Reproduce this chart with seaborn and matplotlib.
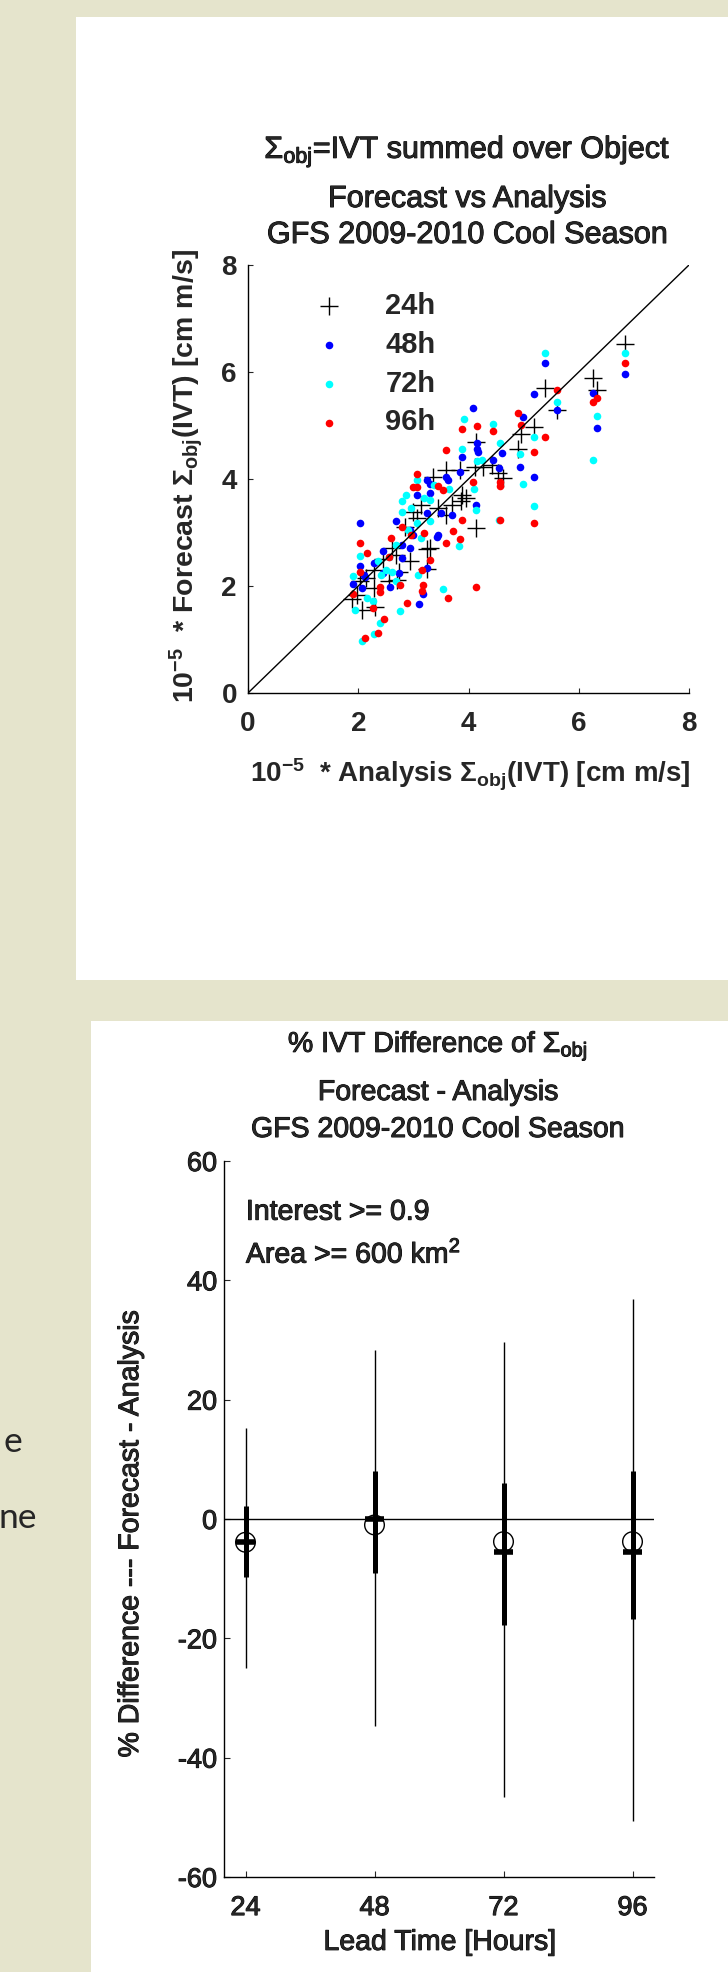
import seaborn as sns
import matplotlib.pyplot as plt
import matplotlib.patheffects as pe
from matplotlib.patches import Rectangle

# analysis (x) vs forecast (y), 1e-5 * Sigma_obj(IVT) [cm m/s]
ana_24 = [6.84, 6.26, 6.33, 5.39, 5.60, 5.18, 4.96, 4.90, 4.54, 4.63,
          4.43, 4.27, 4.14, 4.12, 3.85, 3.60, 3.36, 4.14, 3.95, 3.86,
          3.89, 3.70, 3.60, 3.06, 3.00, 3.13, 3.24, 3.31, 3.24, 2.93,
          2.74, 2.71, 2.61, 2.55, 2.29, 2.14, 2.04, 1.88, 2.06, 2.30,
          1.98, 2.29, 2.68, 2.45, 2.85, 3.45]
fc_24 = [6.52, 5.88, 5.66, 5.71, 5.29, 4.98, 4.85, 4.57, 4.11, 4.01,
         4.27, 4.23, 4.70, 4.22, 4.17, 4.17, 4.04, 3.08, 3.64, 3.58,
         3.70, 3.52, 3.33, 3.27, 3.39, 3.52, 2.69, 2.71, 2.31, 2.46,
         2.27, 2.12, 2.71, 2.09, 1.96, 2.15, 2.09, 1.75, 1.55, 1.61,
         1.84, 2.30, 2.58, 2.50, 3.10, 3.45]

ana_48 = [6.84, 5.39, 5.19, 5.60, 6.26, 6.33, 4.98, 4.93, 5.18, 4.09,
          4.60, 4.56, 4.45, 4.15, 4.16, 4.17, 3.88, 3.60, 3.63, 3.85,
          4.14, 3.25, 3.31, 3.06, 3.30, 3.70, 3.51, 3.44, 3.25, 3.42,
          2.68, 2.93, 2.80, 2.93, 2.45, 2.29, 2.10, 2.04, 2.03, 1.91,
          2.06, 2.12, 2.58, 2.74, 3.17, 3.11, 3.25, 2.45, 2.80, 3.00]
fc_48 = [5.96, 6.16, 5.59, 5.29, 5.60, 4.95, 5.15, 4.22, 4.04, 5.32,
         4.49, 4.20, 4.36, 4.68, 4.57, 4.50, 4.42, 4.04, 3.98, 4.14,
         3.52, 3.98, 3.74, 3.70, 3.91, 3.33, 3.36, 2.96, 3.36, 2.92,
         3.21, 3.05, 2.77, 2.71, 2.65, 2.43, 2.21, 3.18, 2.37, 2.04,
         1.96, 2.16, 1.99, 2.24, 1.85, 1.66, 2.33, 2.24, 2.52, 2.96]

ana_72 = [6.84, 5.39, 5.60, 5.19, 6.33, 6.26, 5.18, 4.98, 4.93, 4.57,
          4.45, 3.91, 3.88, 4.24, 4.15, 4.10, 4.14, 4.56, 3.83, 3.65,
          3.38, 3.06, 3.19, 2.87, 2.80, 2.80, 2.96, 3.31, 3.31, 3.06,
          2.90, 3.13, 2.68, 2.55, 2.36, 2.42, 2.61, 2.68, 2.04, 1.90,
          1.94, 2.15, 2.26, 2.39, 2.29, 2.07, 2.76, 3.53, 3.09, 2.50]
fc_72 = [6.35, 6.36, 5.43, 4.79, 5.18, 4.36, 3.50, 3.91, 4.47, 4.68,
         5.03, 5.13, 4.57, 4.36, 4.33, 3.81, 3.42, 3.24, 2.75, 3.82,
         3.89, 3.99, 3.64, 3.70, 3.58, 3.39, 3.46, 3.61, 3.21, 3.18,
         3.05, 2.90, 2.77, 2.55, 2.46, 2.21, 2.27, 2.09, 2.56, 2.19,
         1.55, 1.77, 1.72, 1.30, 1.10, 0.97, 1.54, 1.94, 2.21, 2.30]

ana_96 = [6.84, 5.60, 6.33, 6.26, 5.39, 5.19, 4.96, 4.89, 4.45,
          4.16, 3.88, 3.59, 4.57, 4.57, 4.08, 3.07, 3.07, 3.45, 3.53,
          3.89, 3.85, 3.71, 3.59, 3.62, 4.14, 4.57, 5.19, 3.31, 3.15,
          3.17, 3.15, 2.89, 2.47, 2.36, 2.12, 2.39, 2.39, 2.26, 1.91,
          2.04, 2.16, 2.04, 2.75, 2.55, 2.80, 2.95, 3.20, 2.60, 3.00]
fc_96 = [6.16, 5.66, 5.52, 5.43, 4.79, 4.51, 5.01, 5.24, 4.90,
         5.00, 4.93, 4.54, 3.87, 3.95, 3.95, 4.09, 3.85, 3.87, 3.79,
         3.24, 2.87, 3.03, 2.81, 1.77, 1.99, 3.24, 3.17, 2.49, 2.30,
         2.02, 1.91, 1.69, 1.38, 1.13, 1.02, 1.89, 1.99, 1.58, 1.85,
         2.27, 2.61, 2.81, 2.02, 2.55, 3.10, 2.95, 3.00, 2.90, 3.85]

# % difference (forecast - analysis) summary per lead time
lead_hours = [24, 48, 72, 96]
whisker_lo = [-24.9, -34.7, -46.6, -50.6]
box_lo = [-9.7, -9.1, -17.8, -16.8]
median_pct = [-3.8, 0.0, -5.5, -5.5]
box_hi = [2.1, 8.0, 6.1, 8.0]
whisker_hi = [15.2, 28.4, 29.7, 36.8]
mean_pct = [-3.9, -1.0, -3.8, -3.8]

W, H = 728, 1972
BEIGE = "#E5E4CC"
# thicken the regular-weight text a touch, like the MATLAB export
heavy = [pe.withStroke(linewidth=0.7, foreground="black")]

sns.set_theme(style="ticks")
plt.rcParams["font.family"] = ["Liberation Sans", "DejaVu Sans"]
plt.rcParams["mathtext.fontset"] = "custom"
plt.rcParams["mathtext.rm"] = "Liberation Sans"
plt.rcParams["mathtext.it"] = "Liberation Sans:italic"
plt.rcParams["mathtext.bf"] = "Liberation Sans:bold"
plt.rcParams["axes.linewidth"] = 1.0
plt.rcParams["axes.edgecolor"] = "black"
plt.rcParams["axes.unicode_minus"] = False

fig = plt.figure(figsize=(W / 100, H / 100), dpi=100)
fig.patch.set_facecolor(BEIGE)
fig.add_artist(Rectangle((76 / W, 1 - 980 / H), 1 - 76 / W, (980 - 17) / H,
                         transform=fig.transFigure, fc="white", ec="none", zorder=-5))
fig.add_artist(Rectangle((91 / W, 0), 1 - 91 / W, 1 - 1021 / H,
                         transform=fig.transFigure, fc="white", ec="none", zorder=-5))

# bits of slide text peeking out on the left
fig.text(22 / W, 1 - 1452 / H, "e", ha="right", va="baseline",
         fontsize=25.5, family="Lato", color="#262626")
fig.text(37 / W, 1 - 1528 / H, "ne", ha="right", va="baseline",
         fontsize=25.5, family="Lato", color="#262626")

# ---------------- scatter: forecast vs analysis ----------------
ax1 = fig.add_axes([248 / W, 1 - 693 / H, 441 / W, 428 / H])
ax1.set_facecolor("white")
sns.scatterplot(x=ana_24, y=fc_24, ax=ax1, marker="+", s=170, color="black",
                linewidth=1.0, label="24h")
sns.scatterplot(x=ana_48, y=fc_48, ax=ax1, marker="o", s=30, color="#0000FF",
                linewidth=0, label="48h")
sns.scatterplot(x=ana_72, y=fc_72, ax=ax1, marker="o", s=30, color="#00FFFF",
                linewidth=0, label="72h")
sns.scatterplot(x=ana_96, y=fc_96, ax=ax1, marker="o", s=30, color="#FF0000",
                linewidth=0, label="96h")
ax1.plot([0, 8], [0, 8], color="black", lw=1.0)
ax1.set_xlim(0, 8)
ax1.set_ylim(0, 8)
ax1.set_xticks([0, 2, 4, 6, 8])
ax1.set_yticks([0, 2, 4, 6, 8])
ax1.tick_params(direction="in", length=3.5, width=0.8, labelsize=20)
ax1.tick_params(axis="x", pad=13)
ax1.tick_params(axis="y", pad=8)
for lab in ax1.get_xticklabels() + ax1.get_yticklabels():
    lab.set_fontweight("bold")
sns.despine(ax=ax1)
ax1.legend(loc="upper left", bbox_to_anchor=(0.118, 0.937), frameon=False,
           borderaxespad=0, borderpad=0, handlelength=2, handletextpad=0.93,
           labelspacing=0.37, scatterpoints=1,
           prop={"size": 21, "weight": "bold"})
ax1.text(0.503, -0.192,
         r"10$^{\mathbf{-5}}$  * Analysis $\mathbf{\Sigma}_{\mathbf{obj}}$(IVT) [cm m/s]",
         transform=ax1.transAxes, ha="center", va="center", fontsize=20,
         fontweight="bold")
ax1.text(-0.141, 0.507,
         r"10$^{\mathbf{-5}}$  * Forecast $\mathbf{\Sigma}_{\mathbf{obj}}$(IVT) [cm m/s]",
         transform=ax1.transAxes, ha="center", va="center", rotation=90,
         fontsize=20.5, fontweight="bold")

cx1 = 467 / W
fig.text(cx1, 1 - 158 / H, r"$\Sigma_{\rm obj}$=IVT summed over Object",
         ha="center", va="baseline", fontsize=22, path_effects=heavy)
fig.text(cx1, 1 - 207 / H, "Forecast vs Analysis", ha="center", va="baseline",
         fontsize=22, path_effects=heavy)
fig.text(cx1, 1 - 243 / H, "GFS 2009-2010 Cool Season", ha="center",
         va="baseline", fontsize=22, path_effects=heavy)

# ---------------- % difference summary ----------------
ax2 = fig.add_axes([224 / W, 1 - 1877 / H, 430 / W, 716 / H])
ax2.set_facecolor("white")
ax2.axhline(0, color="black", lw=1.0, zorder=1)
ax2.vlines(lead_hours, whisker_lo, whisker_hi, color="black", lw=1.0, zorder=2)
ax2.vlines(lead_hours, box_lo, box_hi, color="black", lw=3.6, zorder=3)
ax2.hlines(median_pct, [h - 1.7 for h in lead_hours],
           [h + 1.7 for h in lead_hours], color="black", lw=4.0, zorder=4)
sns.scatterplot(x=lead_hours, y=mean_pct, ax=ax2, marker="o", s=200,
                facecolor="none", edgecolor="black", linewidth=1.0, zorder=5)
ax2.set_xlim(20, 100)
ax2.set_ylim(-60, 60)
ax2.set_xticks(lead_hours)
ax2.set_yticks([-60, -40, -20, 0, 20, 40, 60])
ax2.tick_params(direction="in", length=4.5, width=0.8, labelsize=19.5)
ax2.tick_params(axis="x", pad=13)
ax2.tick_params(axis="y", pad=5)
for lab in ax2.get_xticklabels() + ax2.get_yticklabels():
    lab.set_path_effects(heavy)
sns.despine(ax=ax2)
ax2.text(0.051, 0.918, "Interest >= 0.9", transform=ax2.transAxes,
         va="baseline", fontsize=20.5, path_effects=heavy)
ax2.text(0.051, 0.858, r"Area >= 600 km$^2$", transform=ax2.transAxes,
         va="baseline", fontsize=20.5, path_effects=heavy)
ax2.text(0.502, -0.092, "Lead Time [Hours]", transform=ax2.transAxes,
         ha="center", va="center", fontsize=20.5, path_effects=heavy)
ax2.text(-0.216, 0.479, "% Difference --- Forecast - Analysis",
         transform=ax2.transAxes, ha="center", va="center", rotation=90,
         fontsize=20.5, path_effects=heavy)

cx2 = 438 / W
fig.text(cx2, 1 - 1052 / H, r"% IVT Difference of $\Sigma_{\rm obj}$",
         ha="center", va="baseline", fontsize=20.5, path_effects=heavy)
fig.text(cx2, 1 - 1100 / H, "Forecast - Analysis", ha="center", va="baseline",
         fontsize=20.5, path_effects=heavy)
fig.text(cx2, 1 - 1137 / H, "GFS 2009-2010 Cool Season", ha="center",
         va="baseline", fontsize=20.5, path_effects=heavy)

fig.savefig("out.png", dpi=100, facecolor=fig.get_facecolor())
